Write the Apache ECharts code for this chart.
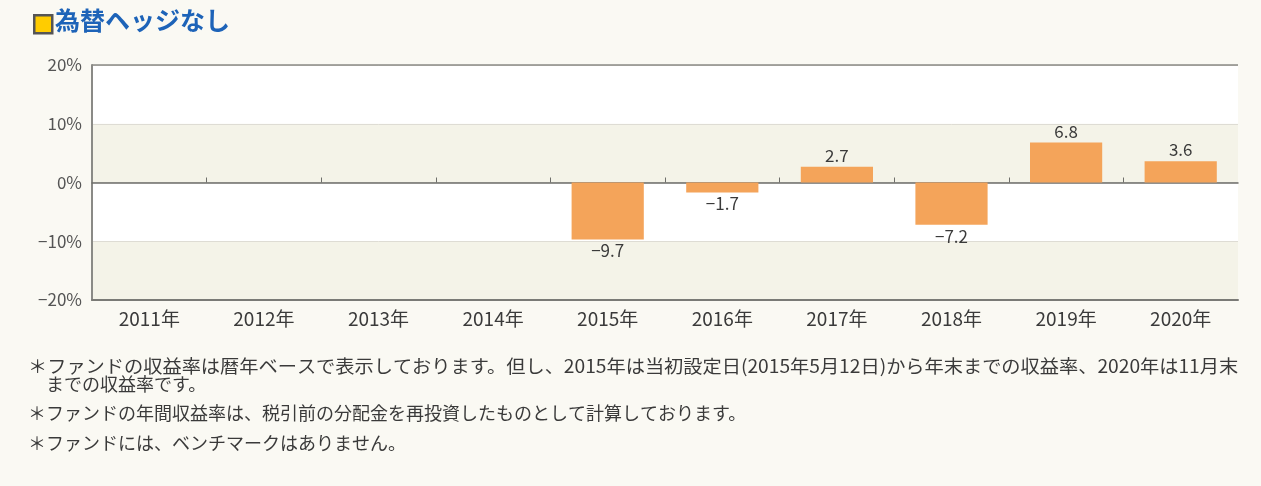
<!DOCTYPE html>
<html>
<head>
<meta charset="utf-8">
<script src="https://cdn.jsdelivr.net/npm/echarts@6/dist/echarts.min.js"></script>
<style>
  html, body { margin: 0; padding: 0; background: #faf9f3; }
  #chart { width: 1261px; height: 486px; }
</style>
</head>
<body>
<div id="chart"></div>
<script>
const years = ['2011年', '2012年', '2013年', '2014年', '2015年', '2016年', '2017年', '2018年', '2019年', '2020年']
const returns = [null, null, null, null, -9.7, -1.7, 2.7, -7.2, 6.8, 3.6]
const yTicks = [-20, -10, 0, 10, 20]
const boundaryTicks = [1, 2, 3, 4, 5, 6, 7, 8, 9]
const titleText = '為替ヘッジなし'
const notes = [
  '＊ファンドの収益率は暦年ベースで表示しております。但し、2015年は当初設定日(2015年5月12日)から年末までの収益率、2020年は11月末',
  '　までの収益率です。',
  '＊ファンドの年間収益率は、税引前の分配金を再投資したものとして計算しております。',
  '＊ファンドには、ベンチマークはありません。'
]
const noteY = [369, 387, 416, 446]
const noteStretch = [1.067, 1, 1, 1]

const font = '"Noto Sans CJK JP", "Noto Sans", sans-serif'
const fmtNum = v => (v < 0 ? '\u2212' + Math.abs(v).toFixed(1) : v.toFixed(1))

const chart = echarts.init(document.getElementById('chart'))

chart.setOption({
  backgroundColor: '#faf9f3',
  animation: false,
  textStyle: { fontFamily: font },
  grid: { left: 92, right: 23, top: 65, bottom: 186, containLabel: false },
  xAxis: [
    {
      // bottom axis with year labels
      type: 'category',
      data: years,
      position: 'bottom',
      axisLine: { onZero: false, lineStyle: { color: '#7a7a76', width: 2 } },
      axisTick: { show: false },
      axisLabel: { color: '#3a3a3a', fontSize: 19, margin: 9, fontFamily: font }
    },
    {
      // zero line with ticks between the years
      type: 'value',
      min: 0,
      max: 10,
      interval: 1,
      position: 'bottom',
      axisLine: { onZero: true, lineStyle: { color: '#6e6e6a', width: 1.5 } },
      axisTick: {
        show: true,
        inside: true,
        length: 5,
        customValues: boundaryTicks,
        lineStyle: { color: '#6e6e6a' }
      },
      axisLabel: { show: false },
      splitLine: { show: false }
    }
  ],
  yAxis: {
    type: 'value',
    min: yTicks[0],
    max: yTicks[yTicks.length - 1],
    interval: 10,
    axisLine: { show: true, lineStyle: { color: '#8a8a86', width: 2 } },
    axisTick: { show: false },
    axisLabel: {
      color: '#555',
      fontSize: 17,
      margin: 10,
      fontFamily: font,
      formatter: v => (v < 0 ? '\u2212' + Math.abs(v) : v) + '%'
    },
    splitLine: { show: true, lineStyle: { color: '#dedcd4', width: 1 } },
    splitArea: { show: true, areaStyle: { color: ['#f4f3e8', '#ffffff'] } }
  },
  series: [
    {
      type: 'bar',
      xAxisIndex: 0,
      data: returns,
      barWidth: '63%',
      itemStyle: { color: '#f4a45a' },
      label: {
        show: true,
        position: 'outside',
        distance: 3,
        color: '#3a3a3a',
        fontSize: 17,
        fontFamily: font,
        formatter: p => (p.value == null ? '' : fmtNum(p.value))
      }
    },
    {
      // top border of the plot
      type: 'line',
      xAxisIndex: 0,
      data: [],
      markLine: {
        silent: true,
        symbol: 'none',
        label: { show: false },
        lineStyle: { color: '#8a8a86', width: 1.5, type: 'solid' },
        data: [{ yAxis: yTicks[yTicks.length - 1] }]
      }
    }
  ],
  graphic: [
    {
      type: 'rect',
      left: 33,
      top: 14,
      shape: { width: 18, height: 18 },
      style: { fill: '#ffcc00', stroke: '#555', lineWidth: 2.5 }
    },
    {
      type: 'text',
      left: 55,
      top: 8,
      style: {
        text: titleText,
        fill: '#1d63b8',
        font: 'bold 25px ' + font
      }
    },
    ...notes.map((t, i) => ({
      type: 'text',
      left: 28,
      top: noteY[i] - 12,
      scaleX: noteStretch[i],
      style: { text: t, fill: '#3a3a3a', font: '18px ' + font }
    }))
  ]
})
</script>
</body>
</html>
